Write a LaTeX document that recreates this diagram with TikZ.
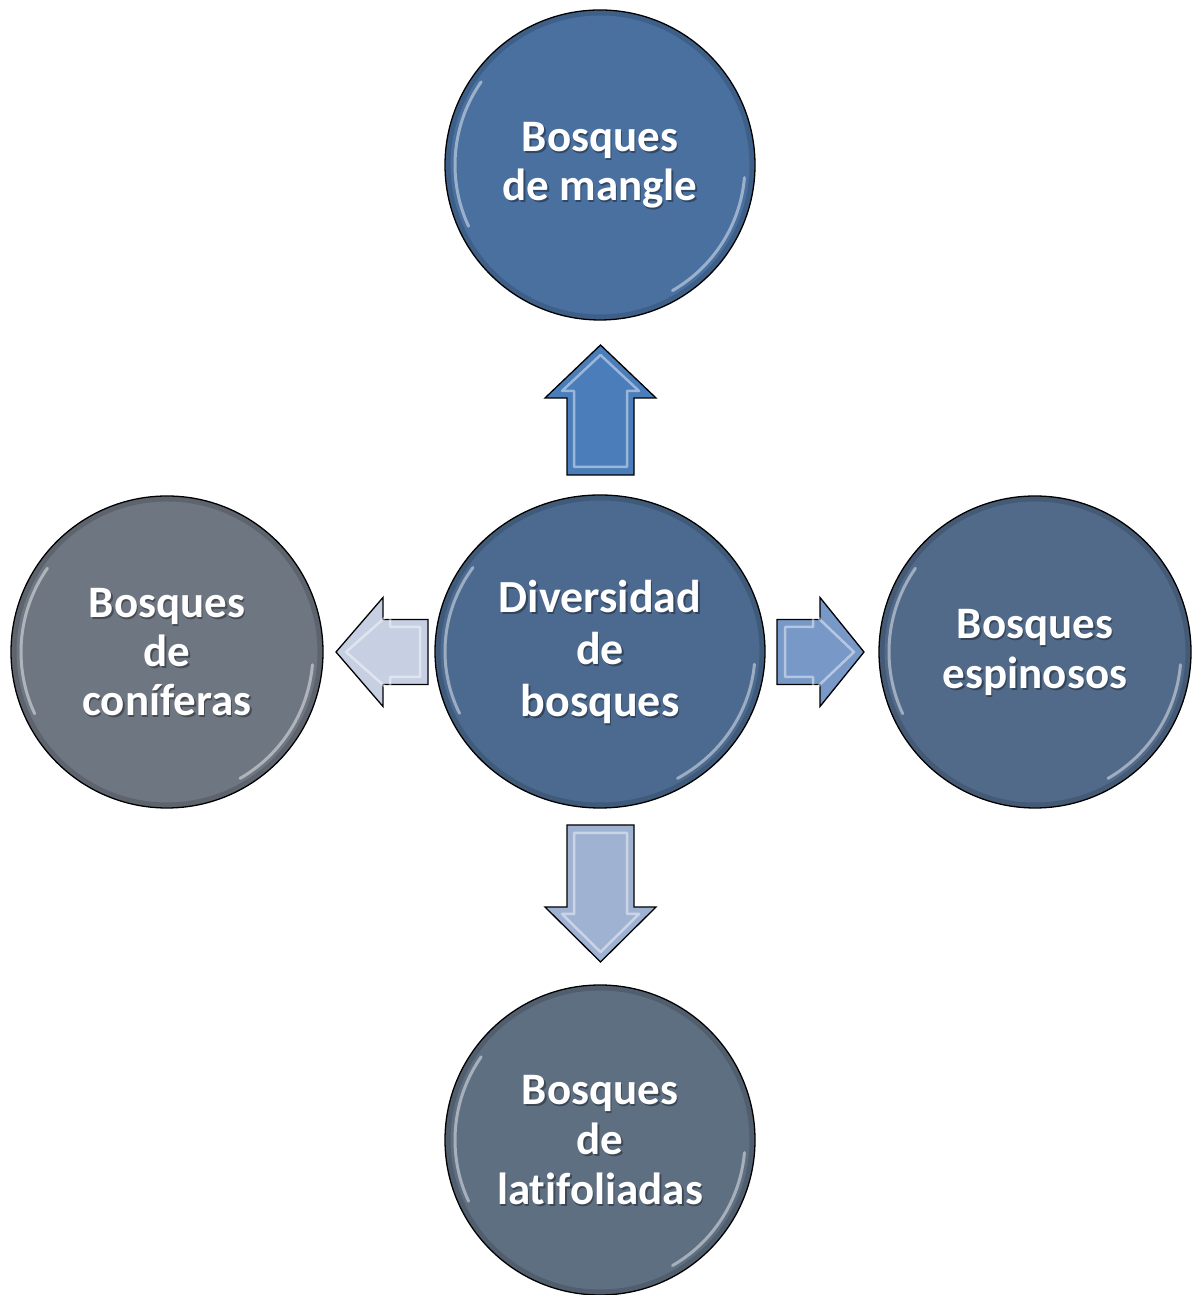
\documentclass[tikz,border=0pt]{standalone}
\usepackage{fontspec}
\setmainfont{Carlito}[Ligatures=NoCommon]
\usetikzlibrary{shapes.geometric}
\definecolor{cTop}{HTML}{4A70A0}
\definecolor{cMid}{HTML}{4C6A90}
\definecolor{cLeft}{HTML}{6E7682}
\definecolor{cRight}{HTML}{526A8A}
\definecolor{cBot}{HTML}{5F6F82}
\definecolor{aUp}{HTML}{4A7DB9}
\definecolor{aLeft}{HTML}{C6D0E2}
\definecolor{aRight}{HTML}{7898C8}
\definecolor{aDown}{HTML}{A0B2D2}
\begin{document}
\begin{tikzpicture}[x=1pt,y=1pt,
  bubble/.style={circle, draw=black, line width=1.3pt, inner sep=0pt},
  shadowtxt/.style={inner sep=0pt, text=black, text opacity=0.35, align=center},
  maintxt/.style={inner sep=0pt, text=white, align=center},
  fA/.style={font=\bfseries\fontsize{45}{49}\selectfont},
  fB/.style={font=\bfseries\fontsize{45}{50}\selectfont},
  fC/.style={font=\bfseries\fontsize{46}{52}\selectfont},
  blockarrow/.style={draw=black, line width=1.3pt, line join=miter},
  bevel/.style={draw=white, draw opacity=0.45, line width=2.5pt, line join=round, fill=none},
  gloss/.style={draw=white, draw opacity=0.45, line width=3pt, line cap=round},
  rim/.style={draw=black, draw opacity=0.15, line width=5pt}
]
\useasboundingbox (0,0) rectangle (1192,1295);

% circles
\node[bubble, fill=cTop,  minimum size=310pt] (top)   at (600,1130) {};
\node[ellipse, draw=black, line width=1.3pt, inner sep=0pt, fill=cMid, minimum width=330pt, minimum height=313pt] (mid) at (600,643.5) {};
\node[bubble, fill=cLeft, minimum size=312pt] (left)  at (167,643)  {};
\node[bubble, fill=cRight,minimum size=312pt] (right) at (1035,643) {};
\node[bubble, fill=cBot,  minimum size=310pt] (bot)   at (600,155)  {};

% rims and gloss
\foreach \n/\r in {top/152, left/153, right/153, bot/152}{
  \draw[rim] (\n.center) circle[radius=\r];
  \draw[gloss] ([shift={(145:\r-7)}]\n.center) arc[start angle=145, end angle=205, radius=\r-7];
  \draw[gloss] ([shift={(-60:\r-7)}]\n.center) arc[start angle=-60, end angle=-5, radius=\r-7];
}
\draw[rim] (mid.center) ellipse[x radius=162, y radius=153.5];
\draw[gloss] ([shift={(145:155 and 146.5)}]mid.center) arc[start angle=145, end angle=205, x radius=155, y radius=146.5];
\draw[gloss] ([shift={(-60:155 and 146.5)}]mid.center) arc[start angle=-60, end angle=-5, x radius=155, y radius=146.5];

% texts with shadow
\node[shadowtxt, fA] (tops)   at ([shift={(1.5,-2)}]top.center)   {Bosques\\de mangle};
\node[shadowtxt, fC] (mids)   at ([shift={(1.5,-2)}]mid.center)   {Diversidad\\de\\bosques};
\node[shadowtxt, fA] (lefts)  at ([shift={(1.5,-2)}]left.center)  {Bosques\\de\\coníferas};
\node[shadowtxt, fB] (rights) at ([shift={(1.5,-2)}]right.center) {Bosques\\espinosos};
\node[shadowtxt, fB] (bots)   at ([shift={(1.5,-2)}]bot.center)   {Bosques\\de\\latifoliadas};

\node[maintxt, fA] (topt)   at (top.center)   {Bosques\\de mangle};
\node[maintxt, fC] (midt)   at (mid.center)   {Diversidad\\de\\bosques};
\node[maintxt, fA] (leftt)  at (left.center)  {Bosques\\de\\coníferas};
\node[maintxt, fB] (rightt) at (right.center) {Bosques\\espinosos};
\node[maintxt, fB] (bott)   at (bot.center)   {Bosques\\de\\latifoliadas};

% block arrows
% up
\draw[blockarrow, fill=aUp] (567,820) -- (567,897) -- (545,897) -- (600.5,950) -- (656,897) -- (634,897) -- (634,820) -- cycle;
\draw[bevel] (574,828) -- (574,904) -- (562,904) -- (600.5,940) -- (639,904) -- (627,904) -- (627,828) -- cycle;
% down
\draw[blockarrow, fill=aDown] (567,470) -- (567,388) -- (545,388) -- (600.5,333) -- (656,388) -- (634,388) -- (634,470) -- cycle;
\draw[bevel] (574,462) -- (574,381) -- (562,381) -- (600.5,343) -- (639,381) -- (627,381) -- (627,462) -- cycle;
% left
\draw[blockarrow, fill=aLeft] (428,675.5) -- (383,675.5) -- (383,697.5) -- (336,643) -- (383,588.5) -- (383,610.5) -- (428,610.5) -- cycle;
\draw[bevel] (420,668) -- (390,668) -- (390,682) -- (346,643) -- (390,604) -- (390,618) -- (420,618) -- cycle;
% right
\draw[blockarrow, fill=aRight] (777,675.5) -- (820,675.5) -- (820,697.5) -- (864,643) -- (820,588.5) -- (820,610.5) -- (777,610.5) -- cycle;
\draw[bevel] (785,668) -- (813,668) -- (813,682) -- (854,643) -- (813,604) -- (813,618) -- (785,618) -- cycle;
\end{tikzpicture}
\end{document}
